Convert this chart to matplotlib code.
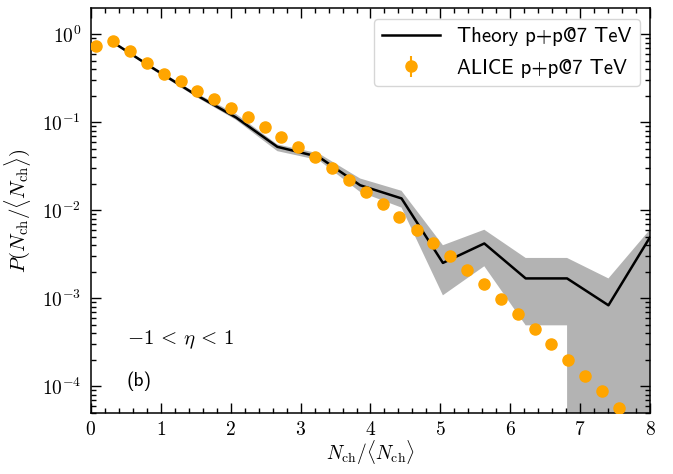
import numpy as np
import matplotlib
matplotlib.use("Agg")
import matplotlib.pyplot as plt
from matplotlib.ticker import FuncFormatter, MultipleLocator, LogLocator

plt.rcParams['mathtext.fontset'] = 'cm'

# ALICE data
alice_x = [0.072, 0.319, 0.558, 0.797, 1.044, 1.283, 1.521, 1.760, 1.999, 2.246,
           2.485, 2.722, 2.961, 3.209, 3.448, 3.687, 3.934, 4.173, 4.411, 4.660,
           4.897, 5.136, 5.379, 5.622, 5.866, 6.104, 6.348, 6.585, 6.824, 7.067,
           7.310, 7.558]
alice_y = [0.736, 0.826, 0.646, 0.465, 0.351, 0.292, 0.223, 0.183, 0.144, 0.115,
           0.0883, 0.068, 0.0524, 0.0397, 0.0298, 0.0219, 0.01614, 0.0117, 0.00839, 0.00597,
           0.00425, 0.0030, 0.00208, 0.00144, 0.000982, 0.000658, 0.000448, 0.000300, 0.000199, 0.000132,
           0.0000877, 0.0000566]
alice_err = [0.0] * len(alice_x)

# Theory
theory_x = [0.30, 0.892, 1.484, 2.076, 2.668, 3.26, 3.852, 4.444, 5.036, 5.628,
            6.22, 6.812, 7.404, 7.996]
theory_y = [0.822, 0.408, 0.208, 0.113, 0.0524, 0.0403, 0.0192, 0.0136, 0.00252, 0.00419,
            0.00168, 0.00168, 0.000832, 0.0049]
theory_lo = [0.80, 0.39, 0.198, 0.106, 0.0468, 0.037, 0.0161, 0.0107, 0.00108, 0.00231,
             0.000493, 0.000493, 0.0, 0.0]
theory_hi = [0.845, 0.425, 0.218, 0.124, 0.0558, 0.0441, 0.0229, 0.0166, 0.0040, 0.0060,
             0.00287, 0.00287, 0.00168, 0.0060]

fig = plt.figure(figsize=(6.73, 4.74), dpi=100)
ax = fig.add_axes([0.135, 0.129, 0.831, 0.8535])

ax.fill_between(theory_x, theory_lo, theory_hi, color='#b3b3b3', linewidth=0, zorder=1)
ax.plot(theory_x, theory_y, color='black', lw=1.8, label='Theory p+p@7 TeV', zorder=2)
ax.errorbar(alice_x, alice_y, yerr=alice_err, fmt='o', color='orange', ms=8,
            elinewidth=1.5, label='ALICE p+p@7 TeV', zorder=3)

ax.set_yscale('log')
ax.set_xlim(0, 8)
ax.set_ylim(5e-5, 1.96)

ax.xaxis.set_major_locator(MultipleLocator(1))
ax.xaxis.set_minor_locator(MultipleLocator(0.2))
ax.xaxis.set_major_formatter(FuncFormatter(lambda v, p: r'$%d$' % round(v)))
ax.yaxis.set_major_locator(LogLocator(base=10, numticks=20))
ax.yaxis.set_minor_locator(LogLocator(base=10, subs=np.arange(2, 10), numticks=20))
ax.yaxis.set_major_formatter(FuncFormatter(lambda v, p: r'$10^{%d}$' % round(np.log10(v))))

ax.tick_params(which='both', direction='in', top=True, right=True, labelsize=14)
ax.tick_params(which='major', length=7, width=1.0)
ax.tick_params(axis='x', which='major', pad=5)
ax.tick_params(axis='y', which='major', pad=7)
ax.tick_params(which='minor', length=3.6, width=1.0)
for s in ax.spines.values():
    s.set_linewidth(1.1)

ax.set_xlabel(r'$N_{\rm ch}/\langle N_{\rm ch}\rangle$', fontsize=14, labelpad=0)
ax.set_ylabel(r'$P(N_{\rm ch}/\langle N_{\rm ch}\rangle)$', fontsize=15, labelpad=6)

ax.text(0.064, 0.1815, r'$-1 \,<\, \eta \,<\, 1$', transform=ax.transAxes, fontsize=15,
        ha='left', va='center')
ax.text(0.064, 0.077, '(b)', transform=ax.transAxes, fontsize=14, family='cmss10',
        ha='left', va='center')

ax.legend(loc='upper right', prop={'family': 'cmss10', 'size': 15}, handlelength=2.8,
          labelspacing=0.6, fancybox=True, framealpha=0.8)

fig.savefig('out.png', dpi=100)
